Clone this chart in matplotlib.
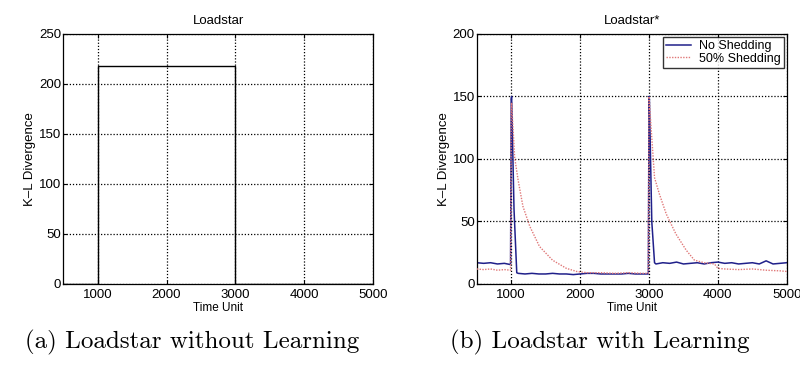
import numpy as np
import matplotlib.pyplot as plt

# Loadstar without learning: divergence is flat between the two change points
t_plain = [500, 1000, 1000, 3000, 3000, 5000]
kl_plain = [0, 0, 218, 218, 0, 0]

# Loadstar* with learning, no shedding
t_none = [500, 600, 700, 800, 900, 990, 1000, 1005, 1040, 1080, 1100, 1200, 1300,
          1400, 1500, 1600, 1700, 1800, 1900, 2000, 2100, 2200, 2300, 2400, 2500,
          2600, 2700, 2800, 2900, 2990, 3000, 3005, 3040, 3080, 3100, 3200, 3300,
          3400, 3500, 3600, 3700, 3800, 3900, 4000, 4100, 4200, 4300, 4400, 4500,
          4600, 4700, 4800, 4900, 5000]
kl_none = [17, 16.5, 17, 16, 16.5, 15.5, 148, 150, 60, 9, 8.5, 8, 8.5,
           8, 8, 8.5, 8, 8, 7.5, 8, 8.5, 8.5, 8, 8, 8,
           8, 8.5, 8, 8, 8, 150, 148, 50, 17, 16, 17, 16.5,
           17.5, 16, 16.5, 17, 16, 17, 17.5, 16.5, 17, 16, 16.5, 17,
           16, 18.5, 16, 16.5, 17]

# Loadstar* with learning, 50% shedding
t_half = [500, 600, 700, 800, 900, 990, 1000, 1005, 1050, 1100, 1170, 1270, 1410,
          1600, 1800, 1950, 2100, 2300, 2500, 2700, 2900, 2990, 3000, 3005, 3080,
          3150, 3250, 3390, 3540, 3660, 3800, 3950, 4000, 4100, 4300, 4500, 4700,
          4900, 5000]
kl_half = [12, 11.5, 12, 11, 11.5, 11, 140, 145, 101, 83, 62, 46, 30,
           19, 12.5, 10, 9, 9, 8.5, 9, 8.5, 8.5, 150, 145, 85,
           72, 56, 40, 27, 19, 17, 16, 12.5, 12, 11.5, 12, 11,
           10.5, 10]

xticks = [1000, 2000, 3000, 4000, 5000]

plt.rcParams['font.family'] = ['Liberation Sans', 'DejaVu Sans']

fig = plt.figure(figsize=(8, 3.65), dpi=100)
ax1 = fig.add_axes([0.079, 0.222, 0.3875, 0.685])
ax2 = fig.add_axes([0.596, 0.222, 0.3875, 0.685])


def style(ax, ymax, ystep, title):
    ax.set_xlim(500, 5000)
    ax.set_ylim(0, ymax)
    ax.set_xticks(xticks)
    ax.set_yticks(np.arange(0, ymax + 1, ystep))
    ax.grid(True, color='black', linestyle=(0, (1, 1.5)), linewidth=0.9)
    ax.tick_params(direction='in', top=True, right=True, labelsize=9.5,
                   length=3)
    ax.tick_params(axis='x', pad=3.5)
    ax.tick_params(axis='y', pad=1.5)
    for s in ax.spines.values():
        s.set_linewidth(0.9)
    ax.set_title(title, fontsize=9.5, pad=7)
    ax.set_xlabel('Time Unit', fontsize=8.5, labelpad=0.5)
    ax.set_ylabel('K–L Divergence', fontsize=9.5, labelpad=2)


ax1.plot(t_plain, kl_plain, color='black', linewidth=1.0)
style(ax1, 250, 50, 'Loadstar')

ax2.plot(t_half, kl_half, color='#e07878', linestyle=(0, (1, 1)),
         linewidth=1.0, label='50% Shedding', zorder=3)
ax2.plot(t_none, kl_none, color='#20208a', linewidth=1.1,
         label='No Shedding', zorder=2)
style(ax2, 200, 50, 'Loadstar*')
h, l = ax2.get_legend_handles_labels()
leg = ax2.legend(h[::-1], l[::-1], loc='upper right', fontsize=9,
                 frameon=True, fancybox=False, edgecolor='black',
                 borderaxespad=0.25, handlelength=2.0, borderpad=0.25,
                 labelspacing=0.05, handletextpad=0.6)
leg.get_frame().set_linewidth(1.0)

fig.text(0.24, 0.062, '(a) Loadstar without Learning', ha='center',
         va='center', family='cmr10', fontsize=18)
fig.text(0.75, 0.062, '(b) Loadstar with Learning', ha='center',
         va='center', family='cmr10', fontsize=18)

fig.savefig('out.png', dpi=100)
